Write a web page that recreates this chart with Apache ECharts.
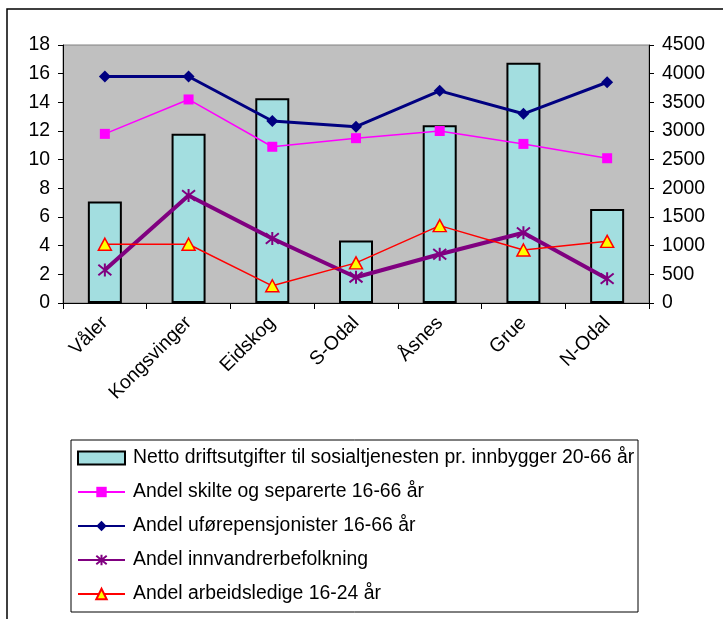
<!DOCTYPE html>
<html>
<head>
<meta charset="utf-8">
<title>Kommuner</title>
<script src="https://cdn.jsdelivr.net/npm/echarts@6/dist/echarts.min.js"></script>
<style>
  html, body { margin: 0; padding: 0; background: #fff; }
  #chart { width: 723px; height: 619px; }
</style>
</head>
<body>
<div id="chart"></div>
<script>
// data
var categories = ['Våler', 'Kongsvinger', 'Eidskog', 'S-Odal', 'Åsnes', 'Grue', 'N-Odal']
var netto = [1770, 2950, 3570, 1090, 3100, 4190, 1640]
var skilte = [11.8, 14.2, 10.9, 11.5, 12.0, 11.1, 10.1]
var ufore = [15.8, 15.8, 12.7, 12.3, 14.8, 13.2, 15.4]
var innvandrer = [2.3, 7.5, 4.5, 1.8, 3.4, 4.9, 1.7]
var arbeidsledige = [4.1, 4.1, 1.2, 2.8, 5.4, 3.7, 4.3]
var leftTicks = { min: 0, max: 18, interval: 2 }
var rightTicks = { min: 0, max: 4500, interval: 500 }

var names = [
  'Netto driftsutgifter til sosialtjenesten pr. innbygger 20-66 år',
  'Andel skilte og separerte 16-66 år',
  'Andel uførepensjonister 16-66 år',
  'Andel innvandrerbefolkning',
  'Andel arbeidsledige 16-24 år',
]

;(function () {
  var FONT = '"Liberation Sans", Arial, sans-serif'
  var FS = 19.4
  var myChart = echarts.init(document.getElementById('chart'))

  var axisCommon = {
    type: 'value',
    axisLine: { show: true, lineStyle: { color: '#000', width: 1 } },
    axisTick: { show: true, length: 5, lineStyle: { color: '#000' } },
    splitLine: { show: false },
    axisLabel: {
      color: '#000',
      fontSize: FS,
      fontFamily: FONT,
      margin: 13,
      // 不要千位分隔符
      formatter: function (v) { return String(v) },
    },
  }

  var option = {
    animation: false,
    backgroundColor: '#fff',
    grid: {
      left: 63,
      right: 74,
      top: 45,
      bottom: 316,
      show: true,
      backgroundColor: '#C0C0C0',
      borderColor: '#808080',
      borderWidth: 1,
    },
    legend: {
      orient: 'vertical',
      left: 77,
      top: 448,
      padding: 0,
      itemWidth: 47,
      itemHeight: 13,
      itemGap: 14,
      textStyle: {
        color: '#000',
        fontSize: FS,
        fontFamily: FONT,
        lineHeight: 20,
        padding: [0, 0, 0, 3],
      },
      data: [
        { name: names[0], icon: 'rect' },
        { name: names[1] },
        { name: names[2] },
        { name: names[3] },
        { name: names[4] },
      ],
    },
    xAxis: {
      type: 'category',
      data: categories,
      axisLine: { show: true, lineStyle: { color: '#000' } },
      axisTick: { show: true, length: 6, lineStyle: { color: '#000' } },
      axisLabel: {
        rotate: 45,
        interval: 0,
        margin: 17,
        color: '#000',
        fontSize: FS,
        fontFamily: FONT,
      },
    },
    yAxis: [
      Object.assign({}, axisCommon, leftTicks, { position: 'left' }),
      Object.assign({}, axisCommon, rightTicks, { position: 'right' }),
    ],
    series: [
      {
        name: names[0],
        type: 'bar',
        yAxisIndex: 1,
        barWidth: 34,
        itemStyle: { color: '#A3DEE0', borderColor: '#000', borderWidth: 2 },
        data: netto,
        z: 1,
      },
      {
        name: names[1],
        type: 'line',
        symbol: 'rect',
        symbolSize: 10,
        lineStyle: { color: '#FF00FF', width: 1.5 },
        itemStyle: { color: '#FF00FF', borderWidth: 0 },
        data: skilte,
        z: 3,
      },
      {
        name: names[2],
        type: 'line',
        symbol: 'diamond',
        symbolSize: 12,
        lineStyle: { color: '#000080', width: 3 },
        itemStyle: { color: '#000080', borderWidth: 0 },
        data: ufore,
        z: 3,
      },
      {
        name: names[3],
        type: 'line',
        // 星号标记
        symbol: 'path://M0,0 L16,16 M0,16 L16,0 M8,-2 L8,18',
        symbolSize: 13,
        lineStyle: { color: '#800080', width: 4 },
        itemStyle: { color: 'none', borderColor: '#800080', borderWidth: 2 },
        data: innvandrer,
        z: 3,
      },
      {
        name: names[4],
        type: 'line',
        symbol: 'triangle',
        symbolSize: [13, 12],
        lineStyle: { color: '#FF0000', width: 1.5 },
        itemStyle: { color: '#FFFF00', borderColor: '#FF0000', borderWidth: 1.5 },
        data: arbeidsledige,
        z: 4,
      },
    ],
    graphic: [
      // 外框
      {
        type: 'rect',
        shape: { x: 7, y: 9, width: 800, height: 700 },
        style: { fill: 'none', stroke: '#000', lineWidth: 1.5 },
        silent: true,
      },
      // 图例框
      {
        type: 'rect',
        shape: { x: 71, y: 440, width: 567, height: 172 },
        style: { fill: 'none', stroke: '#000', lineWidth: 1 },
        silent: true,
      },
    ],
  }

  myChart.setOption(option)
})()
</script>
</body>
</html>
